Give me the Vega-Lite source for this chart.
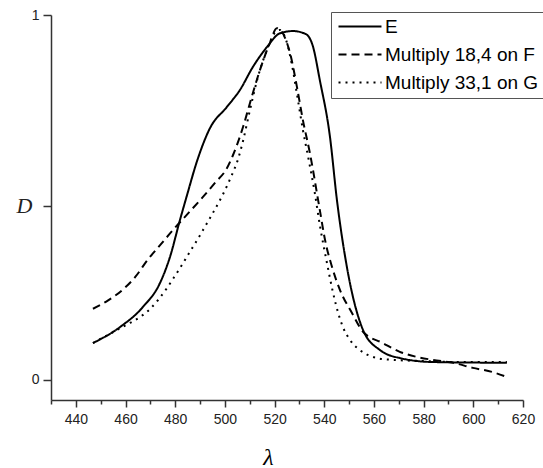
{
  "$schema": "https://vega.github.io/schema/vega-lite/v6.json",
  "autosize": {"type": "none"},
  "padding": {"left": 51, "top": 15, "right": 20, "bottom": 68},
  "width": 472,
  "height": 385,
  "background": "white",
  "config": {"view": {"stroke": null}},
  "data": {"values": [
    {"s": "E", "l": 446.9, "D": 0.101},
    {"s": "E", "l": 457.8, "D": 0.145},
    {"s": "E", "l": 467.0, "D": 0.200},
    {"s": "E", "l": 473.9, "D": 0.266},
    {"s": "E", "l": 477.9, "D": 0.337},
    {"s": "E", "l": 481.9, "D": 0.438},
    {"s": "E", "l": 484.7, "D": 0.505},
    {"s": "E", "l": 488.8, "D": 0.600},
    {"s": "E", "l": 494.0, "D": 0.690},
    {"s": "E", "l": 500.8, "D": 0.748},
    {"s": "E", "l": 506.1, "D": 0.795},
    {"s": "E", "l": 511.3, "D": 0.858},
    {"s": "E", "l": 516.9, "D": 0.912},
    {"s": "E", "l": 522.2, "D": 0.950},
    {"s": "E", "l": 527.4, "D": 0.956},
    {"s": "E", "l": 532.5, "D": 0.948},
    {"s": "E", "l": 535.4, "D": 0.915},
    {"s": "E", "l": 538.2, "D": 0.822},
    {"s": "E", "l": 542.3, "D": 0.666},
    {"s": "E", "l": 545.1, "D": 0.493},
    {"s": "E", "l": 549.1, "D": 0.310},
    {"s": "E", "l": 555.6, "D": 0.137},
    {"s": "E", "l": 562.4, "D": 0.082},
    {"s": "E", "l": 570.4, "D": 0.060},
    {"s": "E", "l": 583.7, "D": 0.049},
    {"s": "E", "l": 613.5, "D": 0.047},
    {"s": "F", "l": 446.9, "D": 0.195},
    {"s": "F", "l": 453.0, "D": 0.218},
    {"s": "F", "l": 459.0, "D": 0.248},
    {"s": "F", "l": 464.0, "D": 0.283},
    {"s": "F", "l": 469.0, "D": 0.330},
    {"s": "F", "l": 474.0, "D": 0.370},
    {"s": "F", "l": 479.0, "D": 0.410},
    {"s": "F", "l": 485.0, "D": 0.455},
    {"s": "F", "l": 491.0, "D": 0.500},
    {"s": "F", "l": 496.0, "D": 0.540},
    {"s": "F", "l": 500.8, "D": 0.580},
    {"s": "F", "l": 503.2, "D": 0.615},
    {"s": "F", "l": 507.3, "D": 0.693},
    {"s": "F", "l": 510.1, "D": 0.759},
    {"s": "F", "l": 514.1, "D": 0.849},
    {"s": "F", "l": 518.1, "D": 0.923},
    {"s": "F", "l": 520.9, "D": 0.964},
    {"s": "F", "l": 526.2, "D": 0.896},
    {"s": "F", "l": 529.0, "D": 0.803},
    {"s": "F", "l": 531.4, "D": 0.712},
    {"s": "F", "l": 534.2, "D": 0.622},
    {"s": "F", "l": 538.2, "D": 0.466},
    {"s": "F", "l": 540.3, "D": 0.384},
    {"s": "F", "l": 543.1, "D": 0.310},
    {"s": "F", "l": 546.3, "D": 0.247},
    {"s": "F", "l": 551.1, "D": 0.184},
    {"s": "F", "l": 555.6, "D": 0.132},
    {"s": "F", "l": 563.6, "D": 0.101},
    {"s": "F", "l": 570.4, "D": 0.077},
    {"s": "F", "l": 577.3, "D": 0.063},
    {"s": "F", "l": 583.7, "D": 0.055},
    {"s": "F", "l": 591.8, "D": 0.047},
    {"s": "F", "l": 599.8, "D": 0.033},
    {"s": "F", "l": 607.5, "D": 0.022},
    {"s": "F", "l": 613.5, "D": 0.008},
    {"s": "G", "l": 446.9, "D": 0.101},
    {"s": "G", "l": 456.6, "D": 0.137},
    {"s": "G", "l": 461.8, "D": 0.156},
    {"s": "G", "l": 465.8, "D": 0.172},
    {"s": "G", "l": 469.8, "D": 0.194},
    {"s": "G", "l": 473.1, "D": 0.219},
    {"s": "G", "l": 476.7, "D": 0.252},
    {"s": "G", "l": 479.9, "D": 0.285},
    {"s": "G", "l": 482.7, "D": 0.315},
    {"s": "G", "l": 485.1, "D": 0.342},
    {"s": "G", "l": 488.8, "D": 0.383},
    {"s": "G", "l": 492.0, "D": 0.420},
    {"s": "G", "l": 495.2, "D": 0.458},
    {"s": "G", "l": 498.8, "D": 0.503},
    {"s": "G", "l": 501.2, "D": 0.537},
    {"s": "G", "l": 503.2, "D": 0.568},
    {"s": "G", "l": 505.3, "D": 0.605},
    {"s": "G", "l": 507.3, "D": 0.655},
    {"s": "G", "l": 510.1, "D": 0.740},
    {"s": "G", "l": 513.3, "D": 0.830},
    {"s": "G", "l": 516.9, "D": 0.904},
    {"s": "G", "l": 520.1, "D": 0.951},
    {"s": "G", "l": 522.2, "D": 0.959},
    {"s": "G", "l": 524.6, "D": 0.932},
    {"s": "G", "l": 527.0, "D": 0.863},
    {"s": "G", "l": 529.4, "D": 0.767},
    {"s": "G", "l": 531.4, "D": 0.685},
    {"s": "G", "l": 533.4, "D": 0.615},
    {"s": "G", "l": 536.2, "D": 0.512},
    {"s": "G", "l": 538.2, "D": 0.425},
    {"s": "G", "l": 541.1, "D": 0.320},
    {"s": "G", "l": 543.5, "D": 0.240},
    {"s": "G", "l": 545.5, "D": 0.186},
    {"s": "G", "l": 547.5, "D": 0.145},
    {"s": "G", "l": 550.3, "D": 0.110},
    {"s": "G", "l": 554.3, "D": 0.082},
    {"s": "G", "l": 558.4, "D": 0.066},
    {"s": "G", "l": 562.4, "D": 0.058},
    {"s": "G", "l": 567.6, "D": 0.055},
    {"s": "G", "l": 578.5, "D": 0.052},
    {"s": "G", "l": 594.6, "D": 0.049},
    {"s": "G", "l": 613.5, "D": 0.049}
  ]},
  "mark": {"type": "line", "color": "black", "strokeWidth": 2, "interpolate": "monotone"},
  "encoding": {
    "x": {
      "field": "l", "type": "quantitative",
      "scale": {"domain": [430, 620], "nice": false, "zero": false},
      "axis": {
        "title": "λ",
        "titleFont": "Liberation Serif", "titleFontStyle": "italic", "titleFontWeight": "normal",
        "titleFontSize": 24, "titleColor": "black",
        "titleX": 217, "titleY": 64, "titleBaseline": "alphabetic", "titleAnchor": null, "titleAlign": "center",
        "values": [430, 440, 450, 460, 470, 480, 490, 500, 510, 520, 530, 540, 550, 560, 570, 580, 590, 600, 610, 620],
        "labelExpr": "datum.value % 20 == 0 ? datum.label : ''",
        "tickSize": {"condition": {"test": "datum.value % 20 == 0", "value": 7}, "value": 4},
        "labelFont": "Liberation Sans", "labelFontSize": 14, "labelColor": "#222",
        "labelPadding": 5, "labelFlush": false, "labelOverlap": false,
        "grid": false, "domainColor": "#333", "domainWidth": 1.5, "tickColor": "#333", "tickWidth": 1.5
      }
    },
    "y": {
      "field": "D", "type": "quantitative",
      "scale": {"domain": [-0.055, 1], "nice": false, "zero": false},
      "axis": {
        "title": null,
        "values": [0, 0.477, 1],
        "labelExpr": "datum.value == 0 ? '0' : (datum.value == 1 ? '1' : 'D')",
        "labelFont": {"condition": {"test": "datum.value > 0.3 && datum.value < 0.7", "value": "Liberation Serif"}, "value": "Liberation Sans"},
        "labelFontStyle": {"condition": {"test": "datum.value > 0.3 && datum.value < 0.7", "value": "italic"}, "value": "normal"},
        "labelFontSize": {"condition": {"test": "datum.value > 0.3 && datum.value < 0.7", "value": 22}, "value": 14},
        "labelPadding": {"condition": {"test": "datum.value > 0.3 && datum.value < 0.7", "value": 11}, "value": 4},
        "labelColor": "#222",
        "tickSize": 8, "grid": false, "domainColor": "#333", "domainWidth": 1.5, "tickColor": "#333", "tickWidth": 1.5
      }
    },
    "strokeDash": {
      "field": "s", "type": "nominal",
      "scale": {"domain": ["E", "F", "G"], "range": [[1, 0], [8, 5], [2, 5]]},
      "legend": {
        "title": null,
        "orient": "none", "legendX": 280, "legendY": -3,
        "labelExpr": "datum.value == 'E' ? 'E' : (datum.value == 'F' ? 'Multiply 18,4 on F' : 'Multiply 33,1 on G')",
        "labelFont": "Liberation Sans", "labelFontSize": 19, "labelColor": "black", "labelLimit": 400,
        "symbolType": "M-1,0H5.14", "symbolSize": 196, "symbolStrokeWidth": 2, "symbolStrokeColor": "black",
        "symbolFillColor": "transparent",
        "strokeColor": "#555", "fillColor": "white", "padding": 5, "rowPadding": 8, "labelOffset": 30
      }
    }
  }
}
